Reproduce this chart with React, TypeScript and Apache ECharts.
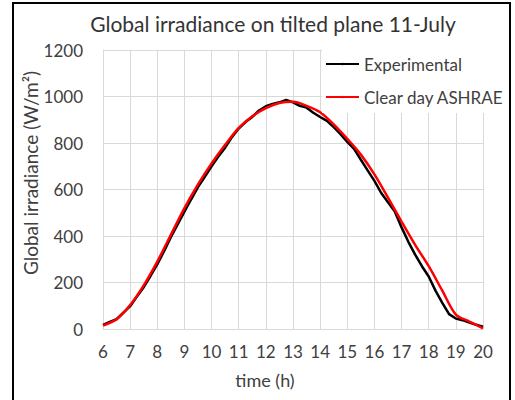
import React, { useEffect, useRef } from "react";
import * as echarts from "echarts";

const titleText = "Global irradiance on tilted plane 11-July";
const xAxisTitle = "time (h)";
const yAxisTitle = "Global irradiance (W/m²)";
const seriesNames = ["Experimental", "Clear day ASHRAE"];

const expHours = [
  6.0, 6.25, 6.5, 6.75, 7.0, 7.25, 7.5, 7.75, 8.0, 8.25, 8.5, 8.75, 9.0, 9.25, 9.5, 9.75,
  10.0, 10.25, 10.5, 10.75, 11.0, 11.25, 11.5, 11.75, 12.0, 12.25, 12.5, 12.75, 13.0, 13.25,
  13.5, 13.75, 14.0, 14.25, 14.5, 14.75, 15.0, 15.25, 15.5, 15.75, 16.0, 16.25, 16.5, 16.75,
  17.0, 17.25, 17.5, 17.75, 18.0, 18.25, 18.5, 18.75, 19.0, 19.25, 19.5, 19.75, 20.0,
];
const expValues = [
  18, 30, 42, 70, 98, 140, 180, 228, 278, 335, 395, 450, 505, 558, 610, 655,
  700, 742, 780, 825, 862, 890, 912, 940, 958, 968, 975, 985, 975, 960,
  952, 930, 912, 895, 868, 838, 805, 775, 728, 682, 637, 585, 545, 505,
  437, 375, 320, 270, 226, 165, 112, 64, 45, 38, 28, 18, 10,
];

const ashraeHours = [
  6.0, 6.5, 7.0, 7.5, 8.0, 8.5, 9.0, 9.5, 10.0, 10.5, 11.0, 11.5, 12.0, 12.5, 13.0,
  13.5, 14.0, 14.5, 15.0, 15.5, 16.0, 16.5, 17.0, 17.5, 18.0, 18.5, 19.0, 19.5, 20.0,
];
const ashraeValues = [
  15, 42, 103, 188, 290, 405, 520, 622, 712, 792, 865, 915, 950, 972, 977,
  960, 932, 880, 818, 750, 665, 565, 462, 362, 270, 165, 62, 32, 3,
];

const FONT = "Lato";
const TXT = "#404040";
const GRID = "#d9d9d9";

export default function App() {
  const ref = useRef<HTMLDivElement>(null);
  useEffect(() => {
    if (!ref.current) return;
    const chart = echarts.init(ref.current, undefined, { renderer: "svg" });
    const expData = expHours.map((h, i) => [h, expValues[i]]);
    const ashData = ashraeHours.map((h, i) => [h, ashraeValues[i]]);
    chart.setOption({
      animation: false,
      backgroundColor: "#ffffff",
      textStyle: { fontFamily: FONT, color: TXT },
      title: {
        text: titleText,
        left: 268,
        top: 8,
        textAlign: "center",
        textStyle: { fontFamily: FONT, fontSize: 21, fontWeight: 400, color: "#333333" },
      },
      grid: { left: 103, top: 50, right: 32, bottom: 71, containLabel: false },
      legend: {
        orient: "vertical",
        left: 322,
        top: 50,
        padding: [4, 10, 6, 3],
        itemGap: 13,
        itemWidth: 33,
        itemHeight: 3,
        backgroundColor: "#ffffff",
        data: seriesNames,
        textStyle: { fontFamily: FONT, fontSize: 17, color: TXT, lineHeight: 20 },
      },
      xAxis: {
        type: "value",
        min: 6,
        max: 20,
        interval: 1,
        axisLine: { show: true, lineStyle: { color: GRID, width: 1 } },
        axisTick: { show: false },
        axisLabel: { fontFamily: FONT, fontSize: 17, color: TXT, margin: 14, formatter: (v: number) => String(v) },
        splitLine: { show: true, lineStyle: { color: GRID, width: 1 } },
      },
      yAxis: {
        type: "value",
        min: 0,
        max: 1200,
        interval: 200,
        axisLine: { show: true, lineStyle: { color: GRID, width: 1 } },
        axisTick: { show: false },
        axisLabel: { fontFamily: FONT, fontSize: 17, color: TXT, margin: 20, formatter: (v: number) => String(v) },
        splitLine: { show: true, lineStyle: { color: GRID, width: 1 } },
      },
      series: [
        {
          name: seriesNames[0],
          type: "line",
          data: expData,
          symbol: "none",
          smooth: false,
          lineStyle: { color: "#000000", width: 2.5 },
          itemStyle: { color: "#000000" },
          z: 2,
        },
        {
          name: seriesNames[1],
          type: "line",
          data: ashData,
          symbol: "none",
          smooth: 0.3,
          lineStyle: { color: "#ff0000", width: 2.5 },
          itemStyle: { color: "#ff0000" },
          z: 3,
        },
      ],
      graphic: [
        {
          type: "rect",
          shape: { x: 13, y: 3, width: 497, height: 430 },
          style: { fill: "none", stroke: "#000000", lineWidth: 2 },
          silent: true,
          z: 100,
        },
        {
          type: "text",
          x: 265,
          y: 380,
          style: {
            text: xAxisTitle,
            fontFamily: FONT,
            fontSize: 18,
            fill: TXT,
            textAlign: "center",
            textVerticalAlign: "middle",
          },
        },
        {
          type: "text",
          x: 30,
          y: 173,
          rotation: Math.PI / 2,
          style: {
            text: yAxisTitle,
            fontFamily: FONT,
            fontSize: 19,
            fill: TXT,
            textAlign: "center",
            textVerticalAlign: "middle",
          },
        },
      ],
    });
    return () => chart.dispose();
  }, []);
  return (
    <div
      ref={ref}
      style={{ position: "fixed", left: 0, top: 0, width: 515, height: 400, background: "#fff" }}
    />
  );
}
